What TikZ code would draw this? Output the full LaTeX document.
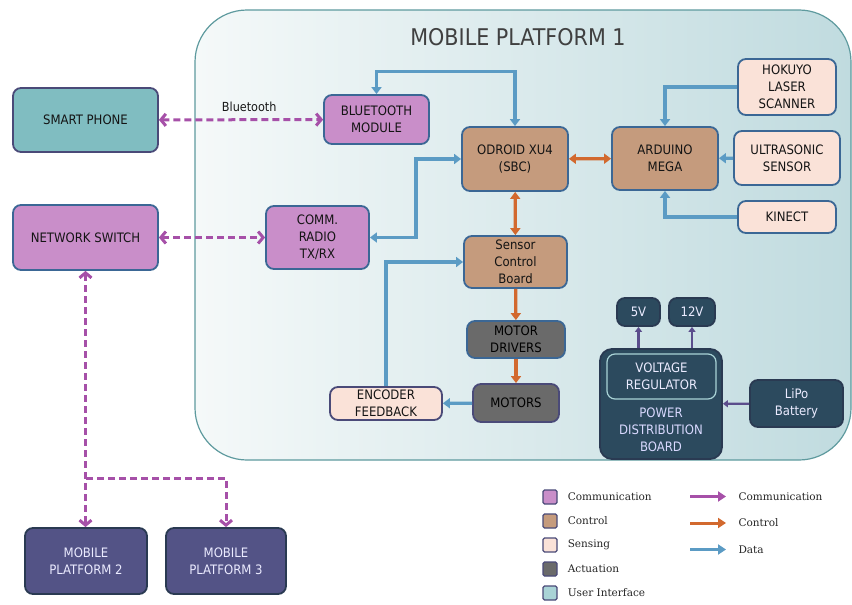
\documentclass[tikz,border=0pt]{standalone}
\usepackage{fontspec}
\setmainfont{DejaVu Sans Condensed}
\newfontfamily\keyfont{DejaVu Serif}
\usetikzlibrary{arrows.meta,positioning}

\definecolor{commfill}{HTML}{C98EC9}
\definecolor{ctrlfill}{HTML}{C59B7D}
\definecolor{sensfill}{HTML}{FAE2D8}
\definecolor{actfill}{HTML}{6A6A6A}
\definecolor{uifill}{HTML}{80BDC1}
\definecolor{uikey}{HTML}{A9D3D6}
\definecolor{pwrfill}{HTML}{2C4A5E}
\definecolor{mpfill}{HTML}{535386}
\definecolor{boxline}{HTML}{3B6795}
\definecolor{darkline}{HTML}{2A3A52}
\definecolor{keyline}{HTML}{4A4A78}
\definecolor{commline}{HTML}{A650A8}
\definecolor{ctrlline}{HTML}{D2692E}
\definecolor{dataline}{HTML}{5B9BC4}
\definecolor{pwrline}{HTML}{5B4D8C}
\definecolor{pfA}{HTML}{F5F9F9}
\definecolor{pfB}{HTML}{C0DBDF}
\definecolor{pfline}{HTML}{5E9A9E}

\begin{document}
\begin{tikzpicture}[x=1pt,y=-1pt,
  box/.style 2 args={draw=boxline, line width=1.8pt, rounded corners=8pt,
    align=center, inner sep=0pt, minimum width=#1, minimum height=#2,
    font=\fontsize{13}{17}\selectfont, text=black!92},
  darkbox/.style 2 args={box={#1}{#2}, draw=darkline, text=white!92!blue},
  comm/.style={draw=commline, line width=3pt, dash pattern=on 7pt off 4pt,
    >={Straight Barb[length=5pt,width=12pt]}},
  ctrl/.style={draw=ctrlline, line width=3.2pt, >={Triangle[length=7pt,width=10pt]}},
  data/.style={draw=dataline, line width=3.2pt, >={Triangle[length=7pt,width=10pt]}},
  pwr/.style={draw=pwrline, line width=2.2pt, ->, >={Triangle[length=5pt,width=7pt]}},
  legbox/.style={draw=keyline, line width=1.2pt, rounded corners=1.5pt,
    minimum size=14pt, inner sep=0pt},
  legtext/.style={font=\keyfont\fontsize{10.5}{12}\selectfont, text=black!85,
    inner sep=0pt}]
\useasboundingbox (0,0) rectangle (852,605);

% mobile platform 1
\draw[pfline, line width=1.2pt, left color=pfA, right color=pfB, rounded corners=52pt]
  (195,10) rectangle (851,460);
\node[font=\fontsize{23}{26}\selectfont, text=black!75] (title) at (518,37) {MOBILE PLATFORM 1};

% outside
\node[box={145pt}{64pt}, fill=uifill, draw=keyline] (phone) at (85.5,120) {SMART PHONE};
\node[box={145pt}{65pt}, fill=commfill] (netsw) at (85.5,237.5) {NETWORK SWITCH};
\node[darkbox={122pt}{66pt}, fill=mpfill] (mp2) at (86,561) {MOBILE\\PLATFORM 2};
\node[darkbox={120pt}{66pt}, fill=mpfill] (mp3) at (226,561) {MOBILE\\PLATFORM 3};

% communication and control
\node[box={105pt}{49pt}, fill=commfill] (bt) at (376.5,119.5) {BLUETOOTH\\MODULE};
\node[box={103pt}{63pt}, fill=commfill] (radio) at (317.5,237.5) {COMM.\\RADIO\\TX/RX};
\node[box={106pt}{64pt}, fill=ctrlfill] (odroid) at (515,159) {ODROID XU4\\(SBC)};
\node[box={106pt}{63pt}, fill=ctrlfill] (arduino) at (665,158.5) {ARDUINO\\MEGA};
\node[box={103pt}{52pt}, fill=ctrlfill] (scb) at (515.5,262) {Sensor\\Control\\Board};

% sensing
\node[box={98pt}{56pt}, fill=sensfill] (hokuyo) at (787,87) {HOKUYO\\LASER\\SCANNER};
\node[box={106pt}{54pt}, fill=sensfill] (ultra) at (787,158) {ULTRASONIC\\SENSOR};
\node[box={98pt}{32pt}, fill=sensfill] (kinect) at (787,217) {KINECT};
\node[box={112pt}{33pt}, fill=sensfill, draw=keyline] (enc) at (386,403.5) {ENCODER\\FEEDBACK};

% actuation
\node[box={98pt}{37pt}, fill=actfill, text=black] (mdrv) at (516,339.5) {MOTOR\\DRIVERS};
\node[box={86pt}{38pt}, fill=actfill, draw=keyline, text=black] (motors) at (516,403) {MOTORS};

% power
\node[darkbox={43pt}{28pt}, fill=pwrfill] (v5) at (638.5,312) {5V};
\node[darkbox={46pt}{28pt}, fill=pwrfill] (v12) at (692,312) {12V};
\node[darkbox={122pt}{110pt}, fill=pwrfill, rounded corners=12pt] (pdb) at (661,404) {};
\node[darkbox={109pt}{45pt}, draw=uikey, line width=1.2pt] (vreg) at (661.5,376.5) {VOLTAGE\\REGULATOR};
\node[align=center, inner sep=0pt, font=\fontsize{13}{17}\selectfont, text=white!85!blue]
  (pdbtext) at (661,430) {POWER\\DISTRIBUTION\\BOARD};
\node[darkbox={93pt}{47pt}, fill=pwrfill] (lipo) at (796.5,403.5) {LiPo\\Battery};

% communication links
\draw[comm,<->] (phone) -- node[above=3pt, pos=.55, font=\fontsize{12.5}{14}\selectfont, text=black!90] {Bluetooth} (bt);
\draw[comm,<->] (netsw) -- (radio);
\draw[comm,<->] (netsw) -- (netsw |- mp2.north);
\coordinate (fork) at (86,478);
\draw[comm,->] (fork) -| (mp3);

% data links
\draw[data,<->] (odroid.north) -- ++(0,-55) -| (bt.north);
\draw[data,<->] (radio.east) -- ++(46,0) |- (odroid.west);
\draw[data,->] (hokuyo.west) -| (arduino.north);
\draw[data,->] (ultra) -- (arduino);
\draw[data,->] (kinect.west) -| (arduino.south);
\draw[data,->] (motors) -- (enc);
\draw[data,->] (enc.north) |- (scb.west);

% control links
\draw[ctrl,<->] (odroid) -- (arduino);
\draw[ctrl,<->] (odroid) -- (scb);
\draw[ctrl,->] (scb) -- (mdrv);
\draw[ctrl,->] (mdrv) -- (motors);

% power links
\draw[pwr] (v5 |- pdb.north) -- (v5);
\draw[pwr] (v12 |- pdb.north) -- (v12);
\draw[pwr] (lipo) -- (pdb);

% legend
\foreach \c/\t [count=\i] in {commfill/Communication, ctrlfill/Control,
    sensfill/Sensing, actfill/Actuation, uikey/User Interface} {
  \node[legbox, fill=\c] (key\i) at (550,473+24*\i) {};
  \node[legtext, right=10pt of key\i] {\t};
}
\foreach \s/\t [count=\i] in {commline/Communication, ctrlline/Control, dataline/Data} {
  \coordinate (ka\i) at (690,470+26.5*\i);
  \draw[\s, line width=3pt, -{Triangle[length=8pt,width=10pt]}] (ka\i) -- ++(36,0)
    node[legtext, right=11pt] {\t};
}
\end{tikzpicture}
\end{document}
